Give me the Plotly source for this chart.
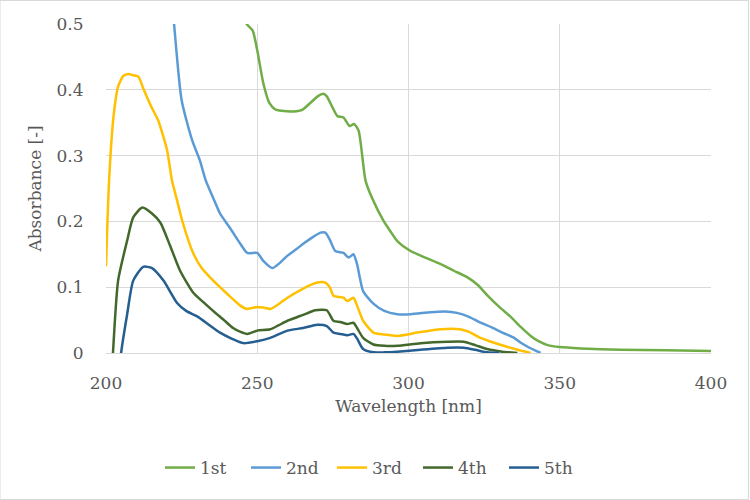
import plotly.graph_objects as go

# ---- data ----
wl1 = [235, 243, 246.5, 248.5, 250, 252, 254, 256, 258, 262, 265, 268, 270, 271.8, 273, 275,
       276.5, 278.5, 280.5, 282, 283.5, 285.8, 288, 291.7, 294, 296.3, 300.7, 305, 310.6, 315,
       319.5, 323, 326, 330, 333.8, 337, 340.4, 343, 346, 350, 357, 370, 385, 400]
a1 = [0.7, 0.54, 0.50, 0.49, 0.46, 0.41, 0.38, 0.37, 0.368, 0.367, 0.370, 0.382, 0.390, 0.394, 0.39, 0.372,
      0.36, 0.358, 0.345, 0.348, 0.338, 0.262, 0.235, 0.201, 0.185, 0.17, 0.155, 0.146, 0.135, 0.125,
      0.115, 0.103, 0.088, 0.07, 0.055, 0.04, 0.026, 0.018, 0.012, 0.009, 0.007, 0.005, 0.004, 0.003]

wl2 = [218, 222.5, 225, 228.5, 231, 233, 235.4, 237.7, 241, 244.4, 246.7, 250, 252, 255, 257.5, 260,
       263, 265.2, 268, 270.9, 272.5, 274, 275.8, 278.5, 280.2, 281.8, 283, 285, 288.4, 292, 296.3,
       300.7, 307.3, 312, 316, 320, 323.8, 327.5, 331.5, 334.5, 337, 340, 343.7]
a2 = [0.75, 0.5, 0.384, 0.323, 0.293, 0.262, 0.236, 0.212, 0.19, 0.166, 0.152, 0.152, 0.14, 0.129, 0.137, 0.148,
      0.158, 0.166, 0.175, 0.183, 0.183, 0.172, 0.155, 0.152, 0.145, 0.15, 0.135, 0.094, 0.075, 0.064, 0.059,
      0.059, 0.062, 0.063, 0.061, 0.055, 0.046, 0.039, 0.03, 0.024, 0.016, 0.008, 0.0]

wl3 = [200, 201, 202.5, 204, 205.7, 207.4, 209, 210.7, 212.5, 215, 217.2, 220.2, 221.8, 223.5, 225.2,
       228.8, 231.5, 234.4, 237, 240, 244.4, 246.7, 250, 252, 254.3, 257, 260, 265.2, 269.8, 272.5,
       274, 275.2, 278.5, 279.8, 281.8, 283, 285, 288.4, 292, 296.3, 303, 310.6, 317, 320, 323.8,
       328, 331.5, 336, 340.4]
a3 = [0.132, 0.26, 0.36, 0.405, 0.421, 0.424, 0.422, 0.42, 0.4, 0.374, 0.354, 0.308, 0.262, 0.232, 0.201,
      0.152, 0.13, 0.115, 0.103, 0.09, 0.072, 0.067, 0.07, 0.069, 0.067, 0.074, 0.084, 0.098, 0.107, 0.107,
      0.1, 0.087, 0.084, 0.079, 0.084, 0.072, 0.049, 0.031, 0.028, 0.026, 0.031, 0.036, 0.036, 0.032, 0.023,
      0.016, 0.011, 0.005, 0.0]

wl4 = [200, 202.3, 204, 207, 209, 212, 215.2, 218, 221.2, 224.5, 228.8, 232, 235.4, 239, 242, 244.5,
       246.7, 250, 254.3, 257, 260, 265.2, 269.2, 273, 275.2, 277.5, 279.8, 281.8, 283, 285, 288.4,
       292, 296.3, 304, 313, 318.2, 322, 326, 331, 336]
a4 = [-0.2, 0.0, 0.11, 0.171, 0.206, 0.221, 0.212, 0.198, 0.163, 0.125, 0.092, 0.078, 0.064, 0.05, 0.038, 0.032,
      0.029, 0.034, 0.036, 0.042, 0.049, 0.058, 0.065, 0.065, 0.049, 0.047, 0.044, 0.046, 0.038, 0.023, 0.013,
      0.011, 0.011, 0.015, 0.017, 0.017, 0.012, 0.006, 0.002, 0.0]

wl5 = [203, 205, 207, 209, 212.3, 215.2, 219, 223.5, 226.5, 230, 234, 237.7, 241.5, 245.4, 250, 254.3,
       260, 265.2, 269.8, 273, 275.2, 277.5, 279.8, 281.8, 283, 285, 288.4, 292, 296.3, 304, 313, 318.2,
       322, 326, 330]
a5 = [-0.12, 0.0, 0.059, 0.11, 0.131, 0.129, 0.11, 0.076, 0.064, 0.056, 0.043, 0.031, 0.022, 0.015, 0.018, 0.023,
      0.034, 0.038, 0.043, 0.041, 0.031, 0.029, 0.027, 0.029, 0.022, 0.006, 0.001, 0.001, 0.002, 0.005, 0.008, 0.008,
      0.005, 0.001, 0.0]

names = ["1st", "2nd", "3rd", "4th", "5th"]
colors = ["#70AD47", "#5B9BD5", "#FFC000", "#43682B", "#255E91"]
xs = [wl1, wl2, wl3, wl4, wl5]
ys = [a1, a2, a3, a4, a5]

FONT = "DejaVu Serif"
FS = 17
GREY = "#595959"

fig = go.Figure()
for x, y, n, c in zip(xs, ys, names, colors):
    fig.add_trace(go.Scatter(x=x, y=y, name=n, mode="lines",
                             line=dict(color=c, width=2.5, shape="spline", smoothing=0.6)))

fig.update_layout(
    width=750, height=500,
    margin=dict(l=106, r=39, t=24, b=147, autoexpand=False),
    paper_bgcolor="white", plot_bgcolor="white",
    font=dict(family=FONT, size=FS, color=GREY),
    showlegend=True,
    legend=dict(orientation="h", xref="container", yref="container",
                x=0.5, xanchor="center", y=1 - 468 / 500, yanchor="middle",
                font=dict(family=FONT, size=FS, color=GREY),
                itemwidth=30, tracegroupgap=0, entrywidth=41),
    xaxis=dict(range=[200, 400], dtick=50, tick0=200, showgrid=True, gridcolor="#d9d9d9", gridwidth=1,
               zeroline=False, showline=True, linecolor="#d9d9d9", linewidth=1, automargin=False,
               ticks="outside", ticklen=0, ticklabelstandoff=15,
               tickfont=dict(family=FONT, size=FS, color=GREY),
               title=dict(text="Wavelength [nm]", standoff=7,
                          font=dict(family=FONT, size=FS, color=GREY))),
    yaxis=dict(range=[0, 0.5], dtick=0.1, tick0=0, showgrid=True, gridcolor="#d9d9d9", gridwidth=1,
               zeroline=False, showline=False, automargin=False,
               ticks="outside", ticklen=0, ticklabelstandoff=18,
               tickfont=dict(family=FONT, size=FS, color=GREY),
               title=dict(text="Absorbance [-]", standoff=10,
                          font=dict(family=FONT, size=FS, color=GREY))),
)

# outer chart border
fig.add_shape(type="rect", xref="paper", yref="paper",
              x0=-106 / 605, x1=1 + 37.5 / 605, y0=-146.5 / 329, y1=1 + 23.5 / 329,
              line=dict(color="#d9d9d9", width=1), fillcolor="rgba(0,0,0,0)", layer="below")

fig.write_html("out.html")
